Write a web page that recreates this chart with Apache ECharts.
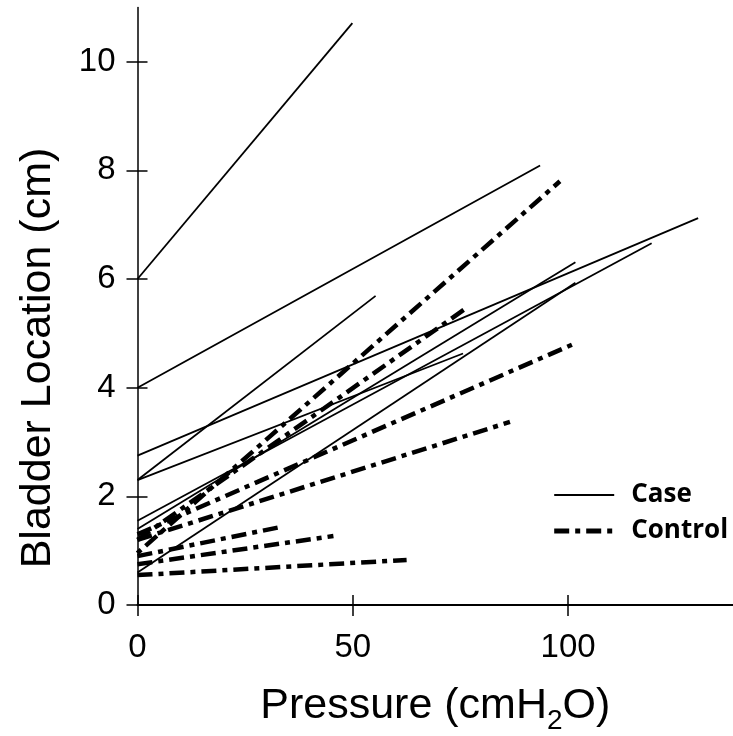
<!DOCTYPE html>
<html><head><meta charset="utf-8">
<script src="https://cdn.jsdelivr.net/npm/echarts@6/dist/echarts.min.js"></script>
<style>html,body{margin:0;padding:0;background:#fff}#c{width:733px;height:736px}</style>
</head><body><div id="c"></div>
<script>
// Tick labels
const xTicks = [0, 50, 100];
const yTicks = [0, 2, 4, 6, 8, 10];

// Case subjects: [pressure, bladder location]
const case1 = [[0, 6.0], [49.9, 10.71]];
const case2 = [[0, 4.0], [93.5, 8.09]];
const case3 = [[0, 2.3], [55.3, 5.69]];
const case4 = [[0, 2.75], [130.2, 7.12]];
const case5 = [[0, 2.3], [75.6, 4.63]];
const case6 = [[0, 1.55], [119.4, 6.66]];
const case7 = [[0, 1.4], [101.7, 6.31]];
const case8 = [[0, 0.6], [101.7, 5.93]];

// Control subjects
const ctrl1 = [[-3.7, 0.7], [98.1, 7.8]];
const ctrl2 = [[0, 1.2], [76.8, 5.49]];
const ctrl3 = [[0, 1.3], [102, 4.83]];
const ctrl4 = [[0, 1.2], [86.5, 3.37]];
const ctrl5 = [[0, 0.9], [33.5, 1.44]];
const ctrl6 = [[0, 0.75], [45.5, 1.27]];
const ctrl7 = [[0, 0.55], [62.5, 0.83]];

const caseLines = [case1, case2, case3, case4, case5, case6, case7, case8];
const controlLines = [ctrl1, ctrl2, ctrl3, ctrl4, ctrl5, ctrl6, ctrl7];

const FONT = '"Liberation Sans", Arial, sans-serif';
const DASH = [15, 6, 5, 6];
const chart = echarts.init(document.getElementById('c'), null, {renderer: 'canvas'});

const series = [];
caseLines.forEach(d => series.push({
  type: 'line', name: 'Case', data: d, symbol: 'none', showSymbol: false,
  clip: false, silent: true,
  lineStyle: {color: '#000', width: 1.8},
  itemStyle: {color: '#000'}
}));
controlLines.forEach(d => series.push({
  type: 'line', name: 'Control', data: d, symbol: 'none', showSymbol: false,
  clip: false, silent: true,
  lineStyle: {color: '#000', width: 4.5, type: DASH, cap: 'butt'},
  itemStyle: {color: '#000'}
}));

const xMax = 138.3, yMax = 11;

chart.setOption({
  animation: false,
  backgroundColor: '#fff',
  grid: {left: 137.5, right: 0, top: 7.4, bottom: 131, containLabel: false, outerBoundsMode: 'none'},
  xAxis: [{
    type: 'value', min: 0, max: xMax, position: 'bottom',
    axisLine: {show: true, onZero: false, lineStyle: {color: '#000', width: 2}},
    axisTick: {show: true, inside: false, length: 11, customValues: xTicks, lineStyle: {color: '#000', width: 1.5}},
    axisLabel: {customValues: xTicks, fontSize: 33, fontFamily: FONT, color: '#000', margin: 26},
    splitLine: {show: false},
    name: '{a|Pressure (cmH}{b|2}{a|O)}',
    nameLocation: 'middle', nameGap: 72,
    nameTextStyle: {
      rich: {
        a: {fontSize: 43, fontFamily: FONT, color: '#000'},
        b: {fontSize: 28, fontFamily: FONT, color: '#000', padding: [30, 0, 0, 0]}
      }
    }
  }, {
    type: 'value', min: 0, max: xMax, position: 'bottom',
    axisLine: {show: false},
    axisTick: {show: true, inside: true, length: 10, customValues: xTicks, lineStyle: {color: '#000', width: 1.5}},
    axisLabel: {show: false},
    splitLine: {show: false}
  }],
  yAxis: [{
    type: 'value', min: 0, max: yMax, position: 'left',
    axisLine: {show: true, onZero: false, lineStyle: {color: '#000', width: 1.5}},
    axisTick: {show: true, inside: false, length: 11, customValues: yTicks, lineStyle: {color: '#000', width: 1.5}},
    axisLabel: {customValues: yTicks, fontSize: 33, fontFamily: FONT, color: '#000', margin: 22},
    splitLine: {show: false}
  }, {
    type: 'value', min: 0, max: yMax, position: 'left',
    axisLine: {show: false},
    axisTick: {show: true, inside: true, length: 10, customValues: yTicks, lineStyle: {color: '#000', width: 1.5}},
    axisLabel: {show: false},
    splitLine: {show: false}
  }],
  legend: {
    data: [
      {name: 'Case', lineStyle: {color: '#000', width: 1.8, type: 'solid'}},
      {name: 'Control', lineStyle: {color: '#000', width: 5, type: DASH, cap: 'butt'}}
    ],
    orient: 'vertical', left: 546.7, top: 475,
    itemWidth: 60, itemHeight: 14, itemGap: 6, selectedMode: false,
    itemStyle: {opacity: 0},
    textStyle: {fontFamily: '"Open Sans", sans-serif', fontWeight: 700, fontSize: 26, color: '#000', padding: [0, 0, 0, 12], lineHeight: 30}
  },
  graphic: [{
    type: 'text', x: 38, y: 358, rotation: Math.PI / 2,
    style: {text: 'Bladder Location (cm)', fontSize: 43, fontFamily: FONT, fill: '#000',
      align: 'center', verticalAlign: 'middle', textAlign: 'center', textVerticalAlign: 'middle'}
  }],
  series: series
});
</script></body></html>
